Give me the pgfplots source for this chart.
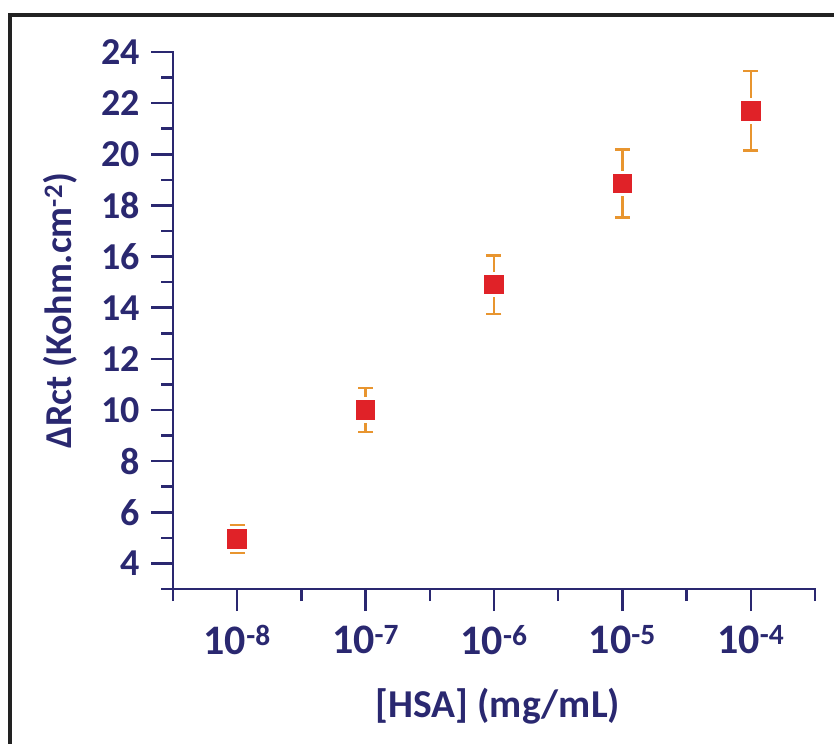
\documentclass[border=0pt]{standalone}
\usepackage{pgfplots}
\pgfplotsset{compat=1.18}
\usepackage{fontspec}
\setmainfont{Carlito}
\definecolor{navy}{HTML}{2A2870}
\definecolor{mred}{HTML}{E02228}
\definecolor{morange}{HTML}{E8952F}
\definecolor{frame}{HTML}{222222}
\begin{document}
\begin{tikzpicture}
\path[use as bounding box] (0,0) rectangle (834bp,744bp);
\draw[frame, line width=4bp] (10bp,0) -- (10bp,729bp) -- (834bp,729bp);
\begin{axis}[
  at={(173bp,155bp)}, anchor=south west,
  scale only axis, width=642bp, height=537bp,
  xmode=log, xmin=3.16228e-9, xmax=3.16228e-4,
  ymin=3, ymax=24,
  axis x line*=bottom, axis y line*=left,
  axis line style={navy, line width=2.5bp, line cap=rect},
  every tick/.style={navy, line width=2.5bp},
  tick align=outside,
  major tick length=22bp, minor tick length=12bp,
  xtick={1e-8,1e-7,1e-6,1e-5,1e-4},
  xticklabels={10\textsuperscript{-8},10\textsuperscript{-7},10\textsuperscript{-6},10\textsuperscript{-5},10\textsuperscript{-4}},
  minor xtick={3.16228e-9,3.16228e-8,3.16228e-7,3.16228e-6,3.16228e-5,3.16228e-4},
  ytick={4,6,...,24},
  minor ytick={3,5,...,23},
  /pgf/number format/assume math mode=true,
  yticklabel style={font=\fontsize{38bp}{40bp}\selectfont\bfseries, text=navy, xshift=-8bp},
  xticklabel style={font=\fontsize{42bp}{46bp}\selectfont\bfseries, text=navy, yshift=-11bp},
  clip=false,
]
\addplot[only marks, mark=none,
  error bars/.cd, y dir=both, y explicit, error mark=-,
  error bar style={draw=morange, line width=2.5bp},
  error mark options={rotate=90, draw=morange, line width=2.5bp, mark size=7.5bp}]
  coordinates {
    (1e-8,4.95) +- (0,0.55)
    (1e-7,10.0) +- (0,0.86)
    (1e-6,14.9) +- (0,1.15)
    (1e-5,18.85) +- (0,1.33)
    (1e-4,21.7) +- (0,1.55)
  };
\addplot[only marks, mark=square*, mark size=11.3bp,
  mark options={fill=mred, draw=white, line width=3bp}]
  coordinates {
    (1e-8,4.95)
    (1e-7,10.0)
    (1e-6,14.9)
    (1e-5,18.85)
    (1e-4,21.7)
  };
\end{axis}
\node[text=navy, anchor=base, font=\fontsize{39.5bp}{42bp}\selectfont\bfseries] at (498bp,27bp) {[HSA] (mg/mL)};
\node[text=navy, rotate=90, font=\fontsize{38bp}{42bp}\selectfont\bfseries] at (60bp,433bp) {ΔRct (Kohm.cm\textsuperscript{-2})};
\end{tikzpicture}
\end{document}
